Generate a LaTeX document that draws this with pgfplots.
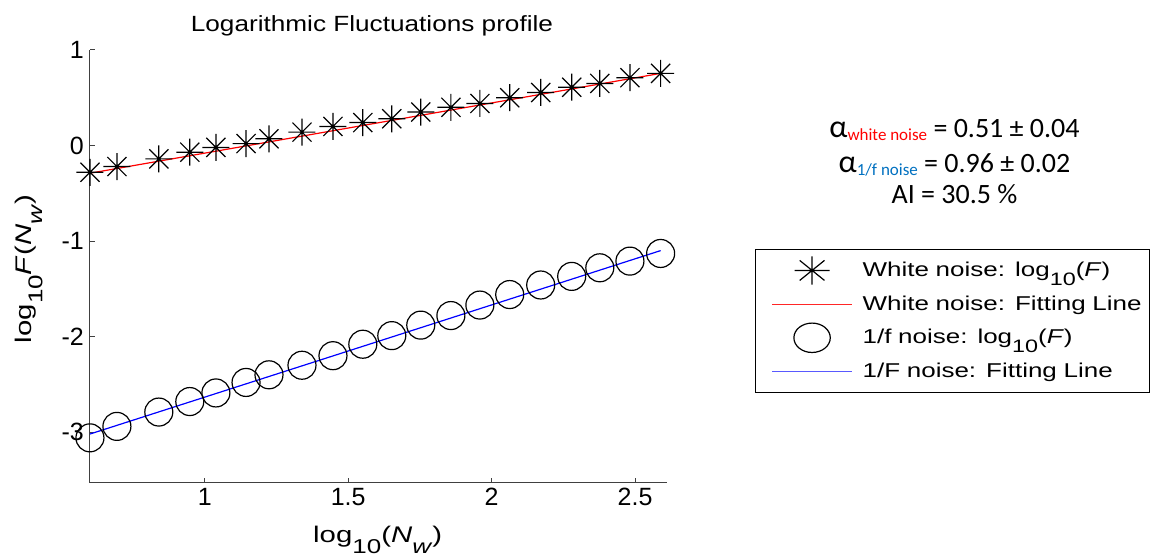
\documentclass[border=0pt]{standalone}
\usepackage{pgfplots}
\pgfplotsset{compat=1.18}
\usepackage{fontspec}
\setmainfont{Liberation Sans}[FakeStretch=1.3]
\newfontfamily\plainsans{Liberation Sans}
\newfontfamily\titlesans{Liberation Sans}[FakeStretch=1.19]
\newfontfamily\calfont{Carlito}
\definecolor{officeblue}{RGB}{0,112,192}
\newcommand\mf{\fontsize{10}{12}\selectfont}
\newcommand\lf{\fontsize{11.3}{13}\selectfont}
\newcommand\tf{\plainsans\fontsize{12.5}{14}\selectfont}
\newcommand\sub[1]{\raisebox{-4.5pt}{\fontsize{9}{10}\selectfont #1}}
\newcommand\subl[1]{\raisebox{-5.2pt}{\fontsize{10}{11}\selectfont #1}}

\pgfdeclareplotmark{ast8}{%
  \pgfpathmoveto{\pgfqpoint{-\pgfplotmarksize}{0pt}}\pgfpathlineto{\pgfqpoint{\pgfplotmarksize}{0pt}}%
  \pgfpathmoveto{\pgfqpoint{0pt}{-\pgfplotmarksize}}\pgfpathlineto{\pgfqpoint{0pt}{\pgfplotmarksize}}%
  \pgfpathmoveto{\pgfqpoint{-.7071\pgfplotmarksize}{-.7071\pgfplotmarksize}}\pgfpathlineto{\pgfqpoint{.7071\pgfplotmarksize}{.7071\pgfplotmarksize}}%
  \pgfpathmoveto{\pgfqpoint{-.7071\pgfplotmarksize}{.7071\pgfplotmarksize}}\pgfpathlineto{\pgfqpoint{.7071\pgfplotmarksize}{-.7071\pgfplotmarksize}}%
  \pgfusepathqstroke}

\pgfplotsset{
  every axis title shift=0pt,
  leg line/.style={legend image code/.code={%
    \path[draw=none, fill=none] (0pt,-8.425pt) rectangle (48.5pt,8.425pt);
    \draw[line width=0.6pt, draw=#1] (8.5pt,0pt) -- (48.5pt,0pt);}},
  leg mark/.style={legend image code/.code={%
    \path[draw=none, fill=none] (0pt,-8.425pt) rectangle (48.5pt,8.425pt);
    \draw[##1, every mark/.append style={xscale=1.3, yscale=1.05}] plot coordinates {(28.5pt,0pt)};}},
}

\begin{document}
\begin{tikzpicture}
\begin{axis}[
  scale only axis, width=288.5pt, height=216.5pt,
  xmin=0.6, xmax=2.61, ymin=-3.53, ymax=1,
  axis x line*=bottom, axis y line*=left,
  axis line style={black!75, line width=0.5pt},
  tick style={black!75, line width=0.5pt},
  tick align=inside, major tick length=2.5pt,
  xtick={1,1.5,2,2.5}, xticklabels={1,1.5,2,2.5},
  ytick={-3,-2,-1,0,1}, yticklabels={-3,-2,-1,0,1},
  ticklabel style={font=\tf},
  xticklabel style={anchor=base, yshift=-11.5pt},
  yticklabel style={xshift=0.5pt},
  clip=false,
  title={Logarithmic Fluctuations profile},
  title style={at={(axis description cs:0.489,1.0416)}, anchor=base, font=\titlesans\fontsize{11}{13}\selectfont},
  xlabel={log\subl{10}(\textit{N}\subl{\textit{w}})},
  xlabel style={at={(axis description cs:0.499,-0.1386)}, anchor=base, font=\lf},
  ylabel={log\subl{10}\textit{F}(\textit{N}\subl{\textit{w}})},
  ylabel style={at={(axis description cs:-0.1005,0.494)}, anchor=base, rotate=0, font=\lf},
  legend style={at={(axis description cs:1.1525,0.5404)}, anchor=north west,
    draw=black, line width=0.5pt, fill=white,
    inner xsep=0pt, inner ysep=2.1pt, row sep=0pt, column sep=5pt,
    nodes={inner sep=0pt, text width=143.5pt, text height=7.5pt, text depth=1.5pt, font=\mf, align=left}},
  legend cell align=left,
]
\addplot[only marks, mark=ast8, mark size=6.75pt, black, line width=0.6pt, leg mark,
  mark options={solid}] coordinates {
(0.600,-0.28) (0.694,-0.22) (0.840,-0.14) (0.948,-0.07) (1.039,-0.02)
(1.144,0.02) (1.224,0.07) (1.339,0.14) (1.447,0.20) (1.551,0.24)
(1.652,0.28) (1.753,0.35) (1.858,0.40) (1.959,0.44) (2.063,0.50)
(2.171,0.555) (2.279,0.61) (2.377,0.65) (2.482,0.71) (2.589,0.755)
};
\addlegendentry{White noise: log\sub{10}(\textit{F})}
\addplot[red, line width=0.6pt, leg line={red!85}] coordinates {(0.600,-0.29) (2.589,0.755)};
\addlegendentry{White noise: Fitting Line}
\addplot[only marks, mark=o, mark size=7pt, black, line width=0.6pt, leg mark] coordinates {
(0.600,-3.06) (0.694,-2.94) (0.840,-2.79) (0.948,-2.68) (1.039,-2.59)
(1.144,-2.48) (1.224,-2.40) (1.339,-2.30) (1.447,-2.20) (1.551,-2.08)
(1.652,-1.99) (1.753,-1.88) (1.858,-1.78) (1.959,-1.67) (2.063,-1.56)
(2.171,-1.46) (2.279,-1.37) (2.377,-1.28) (2.482,-1.21) (2.589,-1.13)
};
\addlegendentry{1/f noise: log\sub{10}(\textit{F})}
\addplot[blue, line width=0.6pt, leg line={blue!65}] coordinates {(0.600,-3.02) (2.589,-1.10)};
\addlegendentry{1/F noise: Fitting Line}

\node[anchor=base, inner sep=0pt, font=\calfont\fontsize{14}{16}\selectfont] at (axis description cs:1.4991,0.7968)
  {{\fontsize{16}{16}\selectfont α}\raisebox{-1.2pt}{\fontsize{8.5}{10}\selectfont\color{red}white noise} = 0.51 ± 0.04};
\node[anchor=base, inner sep=0pt, font=\calfont\fontsize{14}{16}\selectfont] at (axis description cs:1.4991,0.7159)
  {{\fontsize{16}{16}\selectfont α}\raisebox{-1.2pt}{\fontsize{8.5}{10}\selectfont\color{officeblue}1/f noise} = 0.96 ± 0.02};
\node[anchor=base, inner sep=0pt, font=\calfont\fontsize{14}{16}\selectfont] at (axis description cs:1.4991,0.6443)
  {AI = 30.5 \%};

\path (axis description cs:-0.15598,-0.17321) rectangle (axis description cs:1.83709,1.11547);
\end{axis}
\end{tikzpicture}
\end{document}
